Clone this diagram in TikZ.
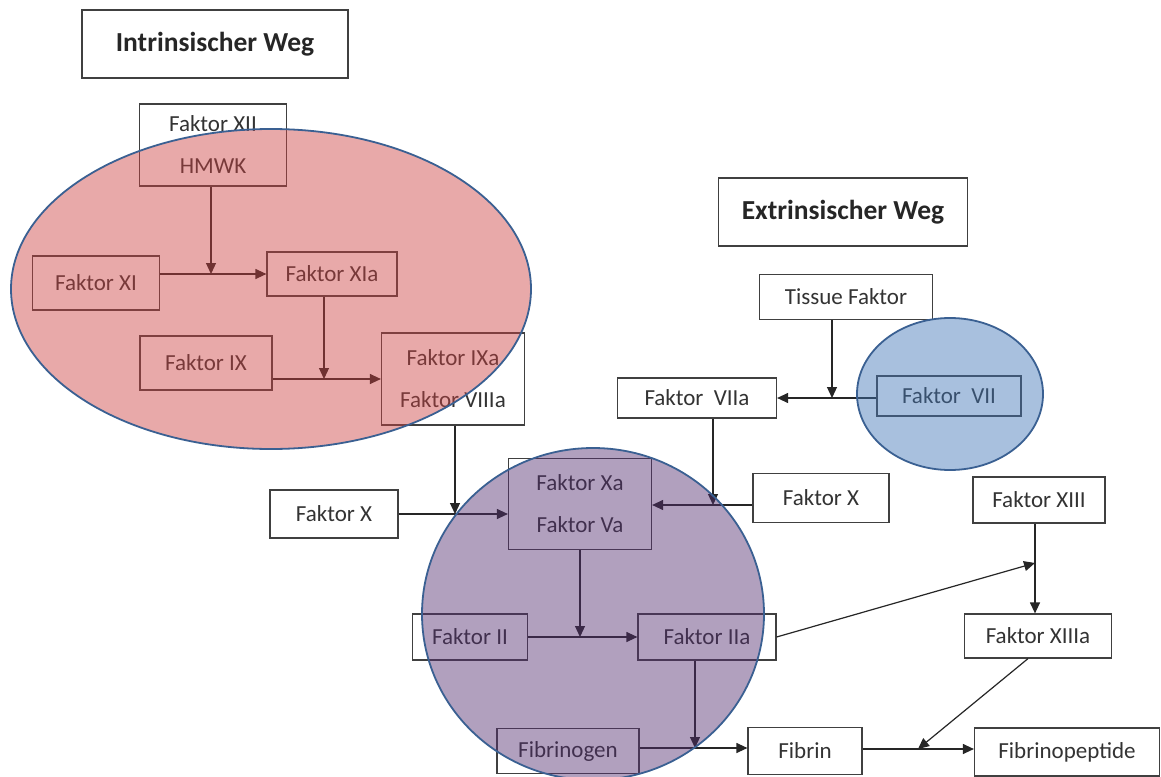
\documentclass[tikz,border=0pt]{standalone}
\usepackage{fontspec}
\setmainfont{Carlito}
\usetikzlibrary{arrows.meta}
\definecolor{redfill}{RGB}{204,66,66}
\definecolor{bluefill}{RGB}{64,117,182}
\definecolor{purpfill}{RGB}{84,46,113}
\definecolor{edgeblue}{RGB}{58,96,146}
\begin{document}
\begin{tikzpicture}[x=1pt,y=-1pt,
  box/.style={draw=black!75, line width=1.2pt, fill=white, inner sep=0pt, font=\fontsize{23}{42}\selectfont, text=black!80, align=center},
  hdr/.style={box, font=\fontsize{27.5}{30}\selectfont\bfseries, text=black!85},
  ln/.style={line width=1.2pt, draw=black!85},
  arr/.style={ln, -{Triangle[length=11pt,width=10pt]}},
  blob/.style={draw=edgeblue, line width=1.8pt, fill opacity=0.45}
]
\useasboundingbox (0,0) rectangle (1161,776);
\fill[white] (0,0) rectangle (1161,776);

% Intrinsic pathway
\node[hdr, minimum width=266pt, minimum height=68pt] (intr) at (215,44) {\raisebox{5pt}{Intrinsischer Weg}};
\node[box, minimum width=147pt, minimum height=82pt] (xii) at (213,145) {Faktor XII\\HMWK};
\node[box, minimum width=127pt, minimum height=54pt] (xi) at (96,283) {Faktor XI};
\node[box, minimum width=130pt, minimum height=44pt] (xia) at (332,274) {Faktor XIa};
\node[box, minimum width=132pt, minimum height=54pt] (ix) at (206,363) {Faktor IX};
\node[box, minimum width=143pt, minimum height=92pt] (ixa) at (453,379) {Faktor IXa\\Faktor VIIIa};

% Extrinsic pathway
\node[hdr, minimum width=249pt, minimum height=68pt] (extr) at (843,212) {\raisebox{5pt}{Extrinsischer Weg}};
\node[box, minimum width=173pt, minimum height=45pt] (tf) at (846,297) {Tissue Faktor};
\node[box, minimum width=144pt, minimum height=40pt] (vii) at (949,396) {Faktor\ \ VII};
\node[box, minimum width=159pt, minimum height=40pt] (viia) at (697,398) {Faktor\ \ VIIa};

% Common pathway
\node[box, minimum width=128pt, minimum height=48pt] (xl) at (334,514) {Faktor X};
\node[box, minimum width=143pt, minimum height=91pt] (xa) at (580,504) {Faktor Xa\\Faktor Va};
\node[box, minimum width=136pt, minimum height=49pt] (xr) at (821,498) {Faktor X};
\node[box, minimum width=115pt, minimum height=46pt] (ii) at (470,637) {Faktor II};
\node[box, minimum width=138pt, minimum height=46pt] (iia) at (707,637) {Faktor IIa};
\node[box, minimum width=142pt, minimum height=45pt] (fbg) at (568,751) {Fibrinogen};
\node[box, minimum width=114pt, minimum height=47pt] (fb) at (805,751) {Fibrin};
\node[box, minimum width=132pt, minimum height=46pt] (xiii) at (1039,500) {Faktor XIII};
\node[box, minimum width=147pt, minimum height=44pt] (xiiia) at (1038,636) {Faktor XIIIa};
\node[box, minimum width=185pt, minimum height=48pt] (fp) at (1067,752) {Fibrinopeptide};

% junctions
\coordinate (j1) at (211,274);
\coordinate (j2) at (324,379);
\coordinate (j3) at (832,398);
\coordinate (j4) at (455,514);
\coordinate (j5) at (713,505);
\coordinate (j6) at (580,637);
\coordinate (j7) at (695,748);
\coordinate (j8) at (1035,563);
\coordinate (j9) at (918,749);

% connectors
\draw[arr] (xi.east |- j1) -- (xia.west |- j1);
\draw[arr] (xii.south -| j1) -- (j1);
\draw[arr] (ix.east |- j2) -- (ixa.west |- j2);
\draw[arr] (xia.south -| j2) -- (j2);
\draw[arr] (vii.west |- j3) -- (viia.east |- j3);
\draw[arr] (tf.south -| j3) -- (j3);
\draw[arr] (xl.east |- j4) -- (xa.west |- j4);
\draw[arr] (ixa.south -| j4) -- (j4);
\draw[arr] (xr.west |- j5) -- (xa.east |- j5);
\draw[arr] (viia.south -| j5) -- (j5);
\draw[arr] (ii.east |- j6) -- (iia.west |- j6);
\draw[arr] (xa.south -| j6) -- (j6);
\draw[arr] (fbg.east |- j7) -- (fb.west |- j7);
\draw[arr] (iia.south -| j7) -- (j7);
\draw[arr] (xiii.south -| j8) -- (xiiia.north -| j8);
\draw[arr] (iia.east) -- (j8);
\draw[arr] (fb.east |- j9) -- (fp.west |- j9);
\draw[arr] ([xshift=-10pt]xiiia.south) -- (j9);

% overlay shapes
\begin{scope}
\clip (0,0) rectangle (1161,776);
\draw[blob, fill=redfill] (271,289) ellipse [x radius=260, y radius=160];
\draw[blob, fill=bluefill] (950,394) ellipse [x radius=93, y radius=76];
\draw[blob, fill=purpfill] (593,614) ellipse [x radius=171, y radius=166];
\end{scope}
\end{tikzpicture}
\end{document}
